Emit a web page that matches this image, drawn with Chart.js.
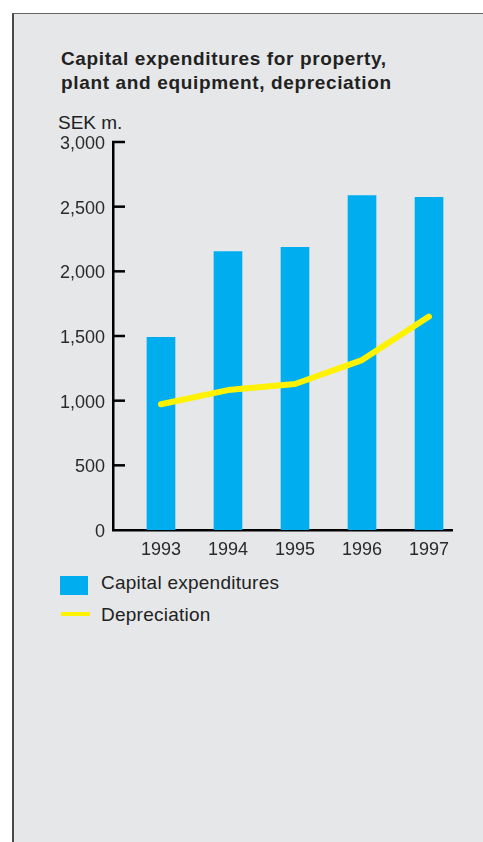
<!DOCTYPE html>
<html>
<head>
<meta charset="utf-8">
<script src="https://cdn.jsdelivr.net/npm/chart.js@4/dist/chart.umd.min.js"></script>
<style>
  body { margin: 0; background: #fff; font-family: "Liberation Sans", Arial, sans-serif; color: #222; }
  .panel {
    position: absolute; left: 12px; top: 13px; width: 471px; height: 829px;
    background: #e6e7e9; border-left: 2px solid #4a4a4a; border-top: 1.5px solid #666;
    box-sizing: border-box;
  }
  .txt { position: absolute; white-space: nowrap; font-size: 19px; line-height: 19px; letter-spacing: 0.25px; }
  .title { left: 61px; top: 47px; font-weight: bold; line-height: 24px; letter-spacing: 0.65px; }
  .unit { left: 58px; top: 113px; letter-spacing: 0; }
  .swatch { position: absolute; }
  #chartBox { position: absolute; left: 0; top: 120px; width: 483px; height: 450px; }
</style>
</head>
<body>
<div class="panel"></div>
<div class="txt title">Capital expenditures for property,<br>plant and equipment, depreciation</div>
<div class="txt unit">SEK m.</div>
<div id="chartBox"><canvas id="capexChart"></canvas></div>
<div class="swatch" style="left:60px; top:576px; width:28px; height:19px; background:#00aeef;"></div>
<div class="txt" style="left:101px; top:573px;">Capital expenditures</div>
<div class="swatch" style="left:61px; top:612px; width:29px; height:4px; background:#fff200;"></div>
<div class="txt" style="left:101px; top:605px;">Depreciation</div>

<script>
// ===== DATA =====
const years = [1993, 1994, 1995, 1996, 1997];
const capex = [1490, 2152, 2186, 2585, 2572];
const depreciation = [972, 1082, 1129, 1314, 1650];
const yTicks = [0, 500, 1000, 1500, 2000, 2500, 3000];

// ===== INWARD TICK MARKS ON THE Y AXIS =====
const inwardTicks = {
    id: "inwardTicks",
    afterDraw(chart) {
        const y = chart.scales.y;
        const ctx = chart.ctx;
        const x0 = chart.chartArea.left;
        ctx.save();
        ctx.strokeStyle = "#000";
        ctx.lineWidth = 2.5;
        yTicks.forEach(v => {
            if (v === 0) return;
            const py = y.getPixelForValue(v);
            ctx.beginPath();
            ctx.moveTo(x0 - 1, py);
            ctx.lineTo(x0 + 12, py);
            ctx.stroke();
        });
        ctx.restore();
    }
};

// ===== CHART =====
new Chart(document.getElementById("capexChart"), {
    data: {
        datasets: [
            {
                type: "line",
                label: "Depreciation",
                data: years.map((yr, i) => ({ x: yr, y: depreciation[i] })),
                borderColor: "#fff200",
                borderWidth: 6,
                borderCapStyle: "round",
                borderJoinStyle: "round",
                pointRadius: 0,
                tension: 0,
                order: 0
            },
            {
                type: "bar",
                label: "Capital expenditures",
                data: years.map((yr, i) => ({ x: yr, y: capex[i] })),
                backgroundColor: "#00aeef",
                barThickness: 28,
                order: 1
            }
        ]
    },
    options: {
        responsive: true,
        maintainAspectRatio: false,
        animation: false,
        layout: { padding: { left: 0, top: 22, right: 31, bottom: 0 } },
        plugins: { legend: { display: false }, tooltip: { enabled: false } },
        scales: {
            x: {
                type: "linear",
                offset: false,
                min: 1992.284,
                max: 1997.343,
                afterBuildTicks: axis => { axis.ticks = years.map(v => ({ value: v })); },
                afterFit: axis => { axis.height = 40; },
                grid: { display: false, drawTicks: false, offset: false },
                border: { display: true, color: "#000", width: 2.5 },
                ticks: {
                    padding: 9,
                    color: "#2a2a2a",
                    font: { family: "Liberation Sans", size: 18 },
                    callback: v => String(v),
                    autoSkip: false,
                    maxRotation: 0
                }
            },
            y: {
                min: 0,
                max: 3000,
                afterBuildTicks: axis => { axis.ticks = yTicks.map(v => ({ value: v })); },
                afterFit: axis => { axis.width = 113; },
                grid: { display: false, drawTicks: false },
                border: { display: true, color: "#000", width: 2.5 },
                ticks: {
                    padding: 8,
                    labelOffset: 2,
                    color: "#2a2a2a",
                    font: { family: "Liberation Sans", size: 18 },
                    callback: v => v.toLocaleString("en-US")
                }
            }
        }
    },
    plugins: [inwardTicks]
});
</script>
</body>
</html>
